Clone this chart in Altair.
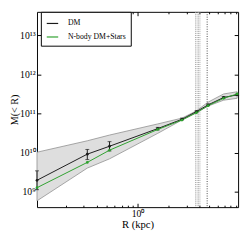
import altair as alt
import pandas as pd

# ---- data ----
R = [0.105, 0.324, 0.533, 1.57, 2.70, 3.74, 4.85, 6.87, 9.3]
dm_M = [1.95e9, 9.1e9, 1.45e10, 4.1e10, 7.1e10, 1.12e11, 1.66e11, 2.57e11, 3.0e11]
dm_err_lo = [1.12e9, 6.6e9, 1.1e10, 3.8e10, 6.8e10, 1.07e11, 1.58e11, 2.45e11, 2.88e11]
dm_err_hi = [3.4e9, 1.2e10, 1.9e10, 4.4e10, 7.6e10, 1.17e11, 1.74e11, 2.69e11, 3.16e11]
nbody_M = [1.26e9, 5.6e9, 1.15e10, 3.9e10, 6.8e10, 1.05e11, 1.58e11, 2.45e11, 3.16e11]
band_lo = [5.8e8, 4.0e9, 6.9e9, 3.1e10, 6.8e10, 1.05e11, 1.55e11, 2.19e11, 2.45e11]
band_hi = [1.02e10, 2.0e10, 2.8e10, 5.4e10, 7.6e10, 1.17e11, 1.95e11, 3.16e11, 3.6e11]
series_names = ["DM", "N-body DM+Stars"]
series_colors = ["#1a1a1a", "#2ca02c"]
gray_lines_R = [3.66, 3.79, 3.91, 4.04]
black_lines_R = [4.75]
x_ticks = [0.2, 0.3, 0.4, 0.5, 0.6, 0.7, 0.8, 0.9, 1, 2, 3, 4, 5, 6, 7, 8, 9]
y_ticks = [1e9, 1e10, 1e11, 1e12, 1e13]

FONT = "Liberation Serif"

df = pd.DataFrame({"R": R, "dm": dm_M, "lo": dm_err_lo, "hi": dm_err_hi,
                   "blo": band_lo, "bhi": band_hi})
long = pd.concat([
    pd.DataFrame({"R": R, "M": dm_M, "series": series_names[0]}),
    pd.DataFrame({"R": R, "M": nbody_M, "series": series_names[1]}),
])
vl_gray = pd.DataFrame({"R": gray_lines_R})
vl_black = pd.DataFrame({"R": black_lines_R})

xs = alt.Scale(type="log", domain=[0.105, 9.5], nice=False)
ys = alt.Scale(type="log", domain=[4e8, 4e13], nice=False)

x_tick_expr = {"expr": "datum.value == 1 ? -4 : -2"}
y_tick_expr = {"expr": "-4"}

x_bottom = alt.Axis(values=x_ticks, labelExpr="datum.value == 1 ? '10⁰' : ''",
                    tickSize=x_tick_expr, tickColor="black", domain=False, grid=False,
                    labelPadding=6, labelFont=FONT, labelFontSize=10, labelColor="black",
                    title="R (kpc)", titleFont=FONT, titleFontSize=11, titleFontWeight="normal",
                    titleColor="black", titlePadding=0)
y_left = alt.Axis(values=y_ticks,
                  labelExpr="datum.value == 1e9 ? '10⁹' : datum.value == 1e10 ? '10¹⁰' : datum.value == 1e11 ? '10¹¹' : datum.value == 1e12 ? '10¹²' : '10¹³'",
                  tickSize=y_tick_expr, tickColor="black", domain=False, grid=False,
                  labelPadding=6, labelFont=FONT, labelFontSize=10, labelColor="black",
                  title="M(< R)", titleFont=FONT, titleFontSize=10.5, titleFontWeight="normal",
                  titleColor="black", titlePadding=-1)
x_top = alt.Axis(orient="top", values=x_ticks, labels=False, tickSize=x_tick_expr,
                 tickColor="black", domain=False, grid=False, title=None)
y_right = alt.Axis(orient="right", values=y_ticks, labels=False, tickSize=y_tick_expr,
                   tickColor="black", domain=False, grid=False, title=None)

band = alt.Chart(df).mark_area(fill="#dedede", stroke="#8f8f8f", strokeWidth=0.8).encode(
    x=alt.X("R:Q", scale=xs, axis=x_bottom),
    y=alt.Y("blo:Q", scale=ys, axis=y_left),
    y2="bhi:Q",
)

vgray = alt.Chart(vl_gray).mark_rule(color="#a8a8a8", strokeWidth=1, strokeDash=[1, 1]).encode(
    x=alt.X("R:Q", scale=xs, axis=None))
vblack = alt.Chart(vl_black).mark_rule(color="#444444", strokeWidth=1, strokeDash=[1, 1.5]).encode(
    x=alt.X("R:Q", scale=xs, axis=None))

errbars = alt.Chart(df).mark_errorbar(ticks={"size": 4}, color="#1a1a1a", thickness=1).encode(
    x=alt.X("R:Q", scale=xs, axis=None),
    y=alt.Y("lo:Q", scale=ys, axis=None),
    y2="hi:Q",
)

lines = alt.Chart(long).mark_line(strokeWidth=1, point={"size": 8, "filled": True}).encode(
    x=alt.X("R:Q", scale=xs, axis=x_top),
    y=alt.Y("M:Q", scale=ys, axis=y_right),
    color=alt.Color("series:N", scale=alt.Scale(domain=series_names, range=series_colors),
                    sort=series_names,
                    legend=alt.Legend(title=None, orient="none", legendX=4, legendY=0,
                                      symbolType="stroke", symbolStrokeWidth=1.2, symbolSize=140,
                                      labelFont=FONT, labelFontSize=8, labelColor="black",
                                      strokeColor="black", fillColor="white", padding=5,
                                      rowPadding=3, cornerRadius=0, labelOffset=9)),
)

chart = alt.layer(band, vgray, vblack, errbars, lines).resolve_axis(
    x="independent", y="independent"
).properties(
    width=208, height=202,
    autosize=alt.AutoSizeParams(type="none"),
    padding={"left": 30, "top": 0, "right": 3, "bottom": 30},
).configure_view(stroke="black", strokeWidth=1, fill="white")

chart.save("out.html", embed_options={"renderer": "svg", "actions": False})
